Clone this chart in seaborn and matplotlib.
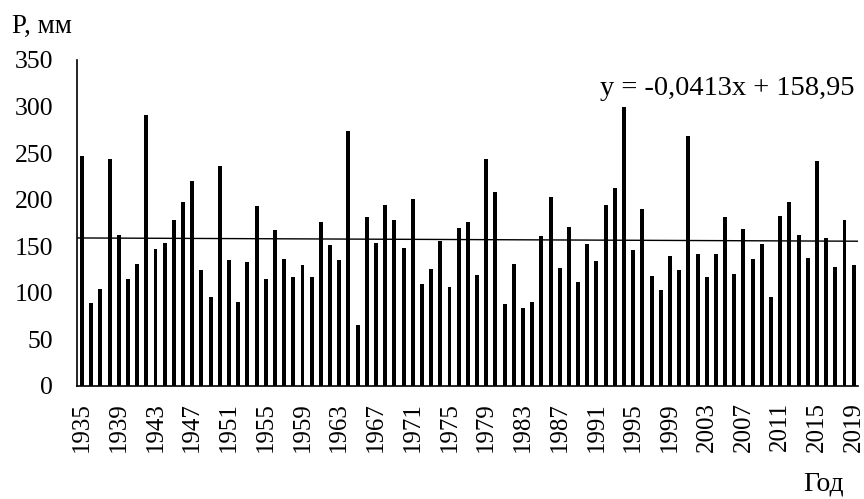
import numpy as np
import pandas as pd
import matplotlib
matplotlib.use("Agg")
import matplotlib.pyplot as plt
import seaborn as sns

# Annual precipitation, mm
years = list(range(1935, 2020))
precip = [
    247, 89, 104, 244, 162, 115, 131, 291, 147, 154,
    178, 198, 220, 124, 96, 236, 135, 90, 133, 193,
    115, 167, 136, 117, 130, 117, 176, 151, 135, 274,
    66, 181, 154, 194, 178, 148, 201, 110, 126, 156,
    106, 170, 176, 119, 244, 208, 88, 131, 84, 90,
    161, 203, 127, 171, 112, 152, 134, 194, 213, 299,
    146, 190, 118, 103, 140, 124, 268, 142, 117, 142,
    181, 120, 169, 136, 152, 96, 182, 198, 162, 137,
    242, 159, 128, 178, 130,
]
label_years = [str(y) for y in range(1935, 2020, 4)]

# Linear trend: y = a*x + b, x = 1..N
trend_slope = -0.0413
trend_intercept = 158.95
trend_text = "y = -0,0413x + 158,95"

sns.set_theme(style="white")
plt.rcParams["font.family"] = ["Liberation Serif", "DejaVu Serif"]

df = pd.DataFrame({"year": [str(y) for y in years], "p": precip})

fig = plt.figure(figsize=(8.64, 4.99), dpi=100)
ax = fig.add_axes([0.0896, 0.2265, 0.9934 - 0.0896, 0.8798 - 0.2265])

sns.barplot(data=df, x="year", y="p", color="black", width=0.43,
            saturation=1, edgecolor="none", ax=ax)

n = len(years)
xs = np.array([-0.5, n - 0.5])
ax.plot(xs, trend_slope * (xs + 1) + trend_intercept, color="black", lw=1.0)

ax.set_xlim(-0.5, n - 0.5)
ax.set_ylim(0, 350)
ax.set_yticks(range(0, 351, 50))

label_pos = [years.index(int(y)) for y in label_years]
ax.set_xticks(label_pos)
ax.set_xticklabels(label_years, rotation=90, fontsize=18)
ax.set_xticks(np.arange(-0.5, n, 1.0), minor=True)
ax.tick_params(axis="x", which="major", length=0, pad=11.5)
ax.tick_params(axis="x", which="minor", direction="in", length=5,
               width=1.0, color="black")
ax.tick_params(axis="y", direction="in", length=5.5, width=1.0,
               color="black", pad=17.5, labelsize=18.5)
ax.tick_params(colors="black", which="both")

for s in ["top", "right"]:
    ax.spines[s].set_visible(False)
for s in ["left", "bottom"]:
    ax.spines[s].set_color("black")
    ax.spines[s].set_linewidth(1.2)

ax.set_xlabel("")
ax.set_ylabel("")

fig.text(12.5 / 864, 1 - 33 / 499, "P, мм", fontsize=19.5, ha="left",
         va="baseline", color="black")
fig.text(844 / 864, 1 - 491 / 499, "Год", fontsize=20, ha="right",
         va="baseline", color="black")
ax.text(n - 0.5 - 0.4, 312, trend_text, fontsize=20.5, ha="right",
        va="baseline", color="black")

fig.savefig("out.png", dpi=100, facecolor="white")
